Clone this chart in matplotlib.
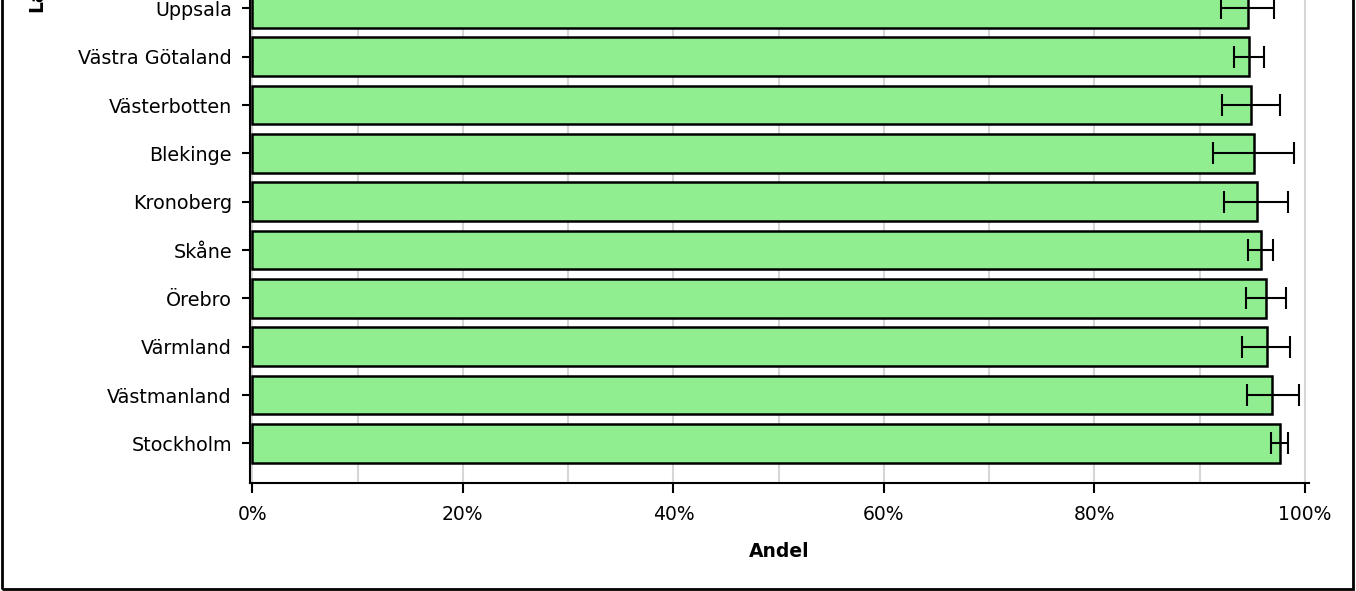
import matplotlib
matplotlib.use("Agg")
import matplotlib.pyplot as plt
from matplotlib.patches import Rectangle
from matplotlib.ticker import PercentFormatter, MultipleLocator

# values in percent, listed bottom to top as drawn
regions = ["Stockholm", "Västmanland", "Värmland", "Örebro", "Skåne",
           "Kronoberg", "Blekinge", "Västerbotten", "Västra Götaland", "Uppsala"]
andel = [97.6, 96.9, 96.4, 96.3, 95.8, 95.4, 95.2, 94.9, 94.7, 94.6]
ci_low = [96.8, 94.5, 94.0, 94.4, 94.6, 92.3, 91.3, 92.1, 93.3, 92.0]
ci_high = [98.4, 99.4, 98.6, 98.2, 97.0, 98.4, 99.0, 97.6, 96.1, 97.1]

W, H = 1356, 591
fig = plt.figure(figsize=(W / 100, H / 100), dpi=100)

# axes: bottom spine at y=483px, top runs past the figure edge (chart is cropped)
ax_top_px = -40
ax = fig.add_axes([250 / W, (H - 483) / H, (1309 - 250) / W, (483 - ax_top_px) / H])

pos = list(range(len(regions)))
err = [[a - lo for a, lo in zip(andel, ci_low)],
       [hi - a for a, hi in zip(andel, ci_high)]]

ax.barh(pos, andel, height=0.8, color="#90ee90", edgecolor="black",
        linewidth=1.8, zorder=2)
ax.errorbar(andel, pos, xerr=err, fmt="none", ecolor="black",
            elinewidth=1.5, capsize=8, capthick=1.5, zorder=3)

slot = 48.33
ax.set_ylim(-0.82, -0.82 + (483 - ax_top_px) / slot)
ax.set_xlim(-0.22, 100.38)
ax.set_yticks(pos)
ax.set_yticklabels(regions, fontsize=13.8)

ax.xaxis.set_major_locator(MultipleLocator(20))
ax.xaxis.set_minor_locator(MultipleLocator(10))
ax.xaxis.set_major_formatter(PercentFormatter(decimals=0))
ax.tick_params(axis="x", which="major", labelsize=13.5, length=7, width=1.5, pad=9)
ax.tick_params(axis="x", which="minor", length=0)
ax.tick_params(axis="y", length=6, width=1.5, pad=7)
ax.grid(axis="x", which="both", color="#d6d6d6", linewidth=1.5, zorder=0)
ax.set_axisbelow(True)

for s in ["top", "right"]:
    ax.spines[s].set_visible(False)
for s in ["left", "bottom"]:
    ax.spines[s].set_linewidth(1.5)

ax.set_xlabel("Andel", fontsize=13.5, fontweight="bold", labelpad=13)

# y-axis title, mostly cut off by the crop as in the reference
fig.text(37 / W, 1 - 12 / H, "Län", rotation=90, ha="center", va="bottom",
         fontsize=13.5, fontweight="bold")

# outer frame
fig.add_artist(Rectangle((2 / W, 2.5 / H), (1353 - 2) / W, 1.2,
                         transform=fig.transFigure, fill=False,
                         edgecolor="black", linewidth=2, clip_on=False))

fig.savefig("out.png", dpi=100)
